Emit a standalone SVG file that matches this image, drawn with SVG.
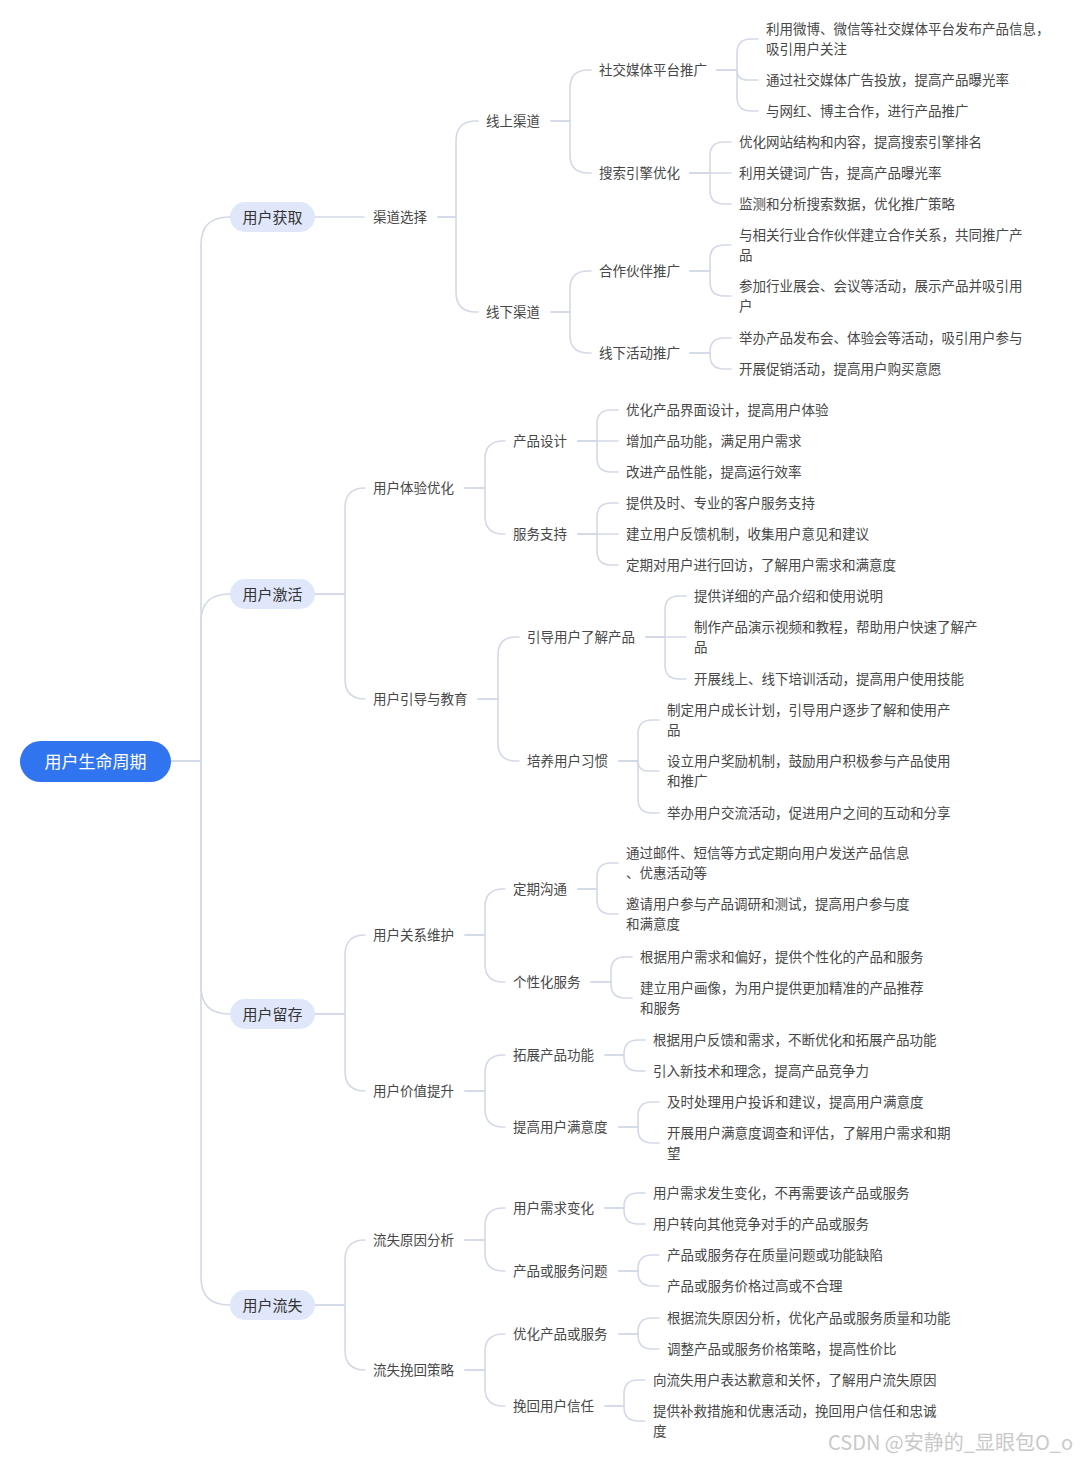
<svg xmlns="http://www.w3.org/2000/svg" width="1080" height="1459" viewBox="0 0 1080 1459">
<style>
.bg{fill:#ffffff}
.c path{fill:none;stroke:#d4d9e8;stroke-width:1.6;stroke-linecap:round}
text{font-family:"Noto Sans CJK SC","Noto Sans",sans-serif;dominant-baseline:central}
.t{font-size:13.5px;fill:#474747}
.p{fill:#e1e7fb}
.pt{font-size:15px;fill:#333;text-anchor:middle}
.root{fill:#3174f0}
.rt{font-size:17px;fill:#ffffff;text-anchor:middle}
.wm{font-size:20px;fill:#c9c9c9;dominant-baseline:auto}
</style>
<rect class="bg" x="0" y="0" width="1080" height="1459"/>
<g class="c" id="connectors">
<path d="M171,761 H201 V245 Q201,217 229,217 H230"/>
<path d="M171,761 H201 V622 Q201,594 229,594 H230"/>
<path d="M171,761 H201 V986 Q201,1014 229,1014 H230"/>
<path d="M171,761 H201 V1277 Q201,1305 229,1305 H230"/>
<path d="M315,217 H364"/>
<path d="M315,594 H345 V508 Q345,488 365,488"/>
<path d="M315,594 H345 V679 Q345,699 365,699"/>
<path d="M315,1014 H345 V955 Q345,935 365,935"/>
<path d="M315,1014 H345 V1071 Q345,1091 365,1091"/>
<path d="M315,1305 H345 V1260 Q345,1240 365,1240"/>
<path d="M315,1305 H345 V1350 Q345,1370 365,1370"/>
<path d="M438,217 H456 V141 Q456,121 476,121 H478"/>
<path d="M438,217 H456 V292 Q456,312 476,312 H478"/>
<path d="M465,488 H485 V459 Q485,441 503,441 H505"/>
<path d="M465,488 H485 V516 Q485,534 503,534 H505"/>
<path d="M478,699 H498 V655 Q498,637 516,637 H519"/>
<path d="M478,699 H498 V743 Q498,761 516,761 H519"/>
<path d="M465,935 H485 V907 Q485,889 503,889 H505"/>
<path d="M465,935 H485 V964 Q485,982 503,982 H505"/>
<path d="M465,1091 H485 V1073 Q485,1055 503,1055 H505"/>
<path d="M465,1091 H485 V1109 Q485,1127 503,1127 H505"/>
<path d="M465,1240 H485 V1226 Q485,1208 503,1208 H505"/>
<path d="M465,1240 H485 V1253 Q485,1271 503,1271 H505"/>
<path d="M465,1370 H485 V1352 Q485,1334 503,1334 H505"/>
<path d="M465,1370 H485 V1388 Q485,1406 503,1406 H505"/>
<path d="M551,121 H570 V88 Q570,70 588,70 H591"/>
<path d="M551,121 H570 V155 Q570,173 588,173 H591"/>
<path d="M551,312 H570 V289 Q570,271 588,271 H591"/>
<path d="M551,312 H570 V335 Q570,353 588,353 H591"/>
<path d="M717,70 H737 V53 Q737,39 751,39 H758"/>
<path d="M717,70 H737 V70 Q737,80 747,80 H758"/>
<path d="M717,70 H737 V97 Q737,111 751,111 H758"/>
<path d="M690,173 H710 V156 Q710,142 724,142 H731"/>
<path d="M690,173 H731"/>
<path d="M690,173 H710 V190 Q710,204 724,204 H731"/>
<path d="M690,271 H710 V259 Q710,245 724,245 H731"/>
<path d="M690,271 H710 V282 Q710,296 724,296 H731"/>
<path d="M690,353 H710 V352 Q710,338 724,338 H731"/>
<path d="M690,353 H710 V355 Q710,369 724,369 H731"/>
<path d="M578,441 H597 V424 Q597,410 611,410 H618"/>
<path d="M578,441 H618"/>
<path d="M578,441 H597 V458 Q597,472 611,472 H618"/>
<path d="M578,534 H597 V517 Q597,503 611,503 H618"/>
<path d="M578,534 H618"/>
<path d="M578,534 H597 V551 Q597,565 611,565 H618"/>
<path d="M646,637 H665 V610 Q665,596 679,596 H686"/>
<path d="M646,637 H686"/>
<path d="M646,637 H665 V665 Q665,679 679,679 H686"/>
<path d="M619,761 H638 V734 Q638,720 652,720 H659"/>
<path d="M619,761 H638 V761 Q638,771 648,771 H659"/>
<path d="M619,761 H638 V799 Q638,813 652,813 H659"/>
<path d="M578,889 H597 V877 Q597,863 611,863 H618"/>
<path d="M578,889 H597 V900 Q597,914 611,914 H618"/>
<path d="M591,982 H611 V971 Q611,957 625,957 H632"/>
<path d="M591,982 H611 V984 Q611,998 625,998 H632"/>
<path d="M605,1055 H624 V1054 Q624,1040 638,1040 H645"/>
<path d="M605,1055 H624 V1057 Q624,1071 638,1071 H645"/>
<path d="M619,1127 H638 V1116 Q638,1102 652,1102 H659"/>
<path d="M619,1127 H638 V1129 Q638,1143 652,1143 H659"/>
<path d="M605,1208 H624 V1207 Q624,1193 638,1193 H645"/>
<path d="M605,1208 H624 V1210 Q624,1224 638,1224 H645"/>
<path d="M619,1271 H638 V1269 Q638,1255 652,1255 H659"/>
<path d="M619,1271 H638 V1272 Q638,1286 652,1286 H659"/>
<path d="M619,1334 H638 V1332 Q638,1318 652,1318 H659"/>
<path d="M619,1334 H638 V1335 Q638,1349 652,1349 H659"/>
<path d="M605,1406 H624 V1394 Q624,1380 638,1380 H645"/>
<path d="M605,1406 H624 V1407 Q624,1421 638,1421 H645"/>
</g>
<g id="root"><rect class="root" x="20" y="741" width="151" height="41" rx="20.5"/><text class="rt" x="95.5" y="760.5">用户生命周期</text></g>
<g id="n-acquire"><rect class="p" x="230" y="202" width="85" height="30" rx="15"/><text class="pt" x="272.5" y="216">用户获取</text></g>
<g id="n-activate"><rect class="p" x="230" y="579" width="85" height="30" rx="15"/><text class="pt" x="272.5" y="593">用户激活</text></g>
<g id="n-retain"><rect class="p" x="230" y="999" width="85" height="30" rx="15"/><text class="pt" x="272.5" y="1013">用户留存</text></g>
<g id="n-churn"><rect class="p" x="230" y="1290" width="85" height="30" rx="15"/><text class="pt" x="272.5" y="1304">用户流失</text></g>
<g transform="translate(0,-1)">
<g id="n-channel"><text class="t" x="373" y="217">渠道选择</text></g>
<g id="n-ux"><text class="t" x="373" y="488">用户体验优化</text></g>
<g id="n-guide"><text class="t" x="373" y="699">用户引导与教育</text></g>
<g id="n-relation"><text class="t" x="373" y="935">用户关系维护</text></g>
<g id="n-value"><text class="t" x="373" y="1091">用户价值提升</text></g>
<g id="n-reason"><text class="t" x="373" y="1240">流失原因分析</text></g>
<g id="n-winback"><text class="t" x="373" y="1370">流失挽回策略</text></g>
<g id="n-online"><text class="t" x="486" y="121">线上渠道</text></g>
<g id="n-offline"><text class="t" x="486" y="312">线下渠道</text></g>
<g id="n-social"><text class="t" x="599" y="70">社交媒体平台推广</text></g>
<g id="n-seo"><text class="t" x="599" y="173">搜索引擎优化</text></g>
<g id="n-partner"><text class="t" x="599" y="271">合作伙伴推广</text></g>
<g id="n-event"><text class="t" x="599" y="353">线下活动推广</text></g>
<g id="n-design"><text class="t" x="513" y="441">产品设计</text></g>
<g id="n-service"><text class="t" x="513" y="534">服务支持</text></g>
<g id="n-learn"><text class="t" x="527" y="637">引导用户了解产品</text></g>
<g id="n-habit"><text class="t" x="527" y="761">培养用户习惯</text></g>
<g id="n-comm"><text class="t" x="513" y="889">定期沟通</text></g>
<g id="n-personal"><text class="t" x="513" y="982">个性化服务</text></g>
<g id="n-feature"><text class="t" x="513" y="1055">拓展产品功能</text></g>
<g id="n-satis"><text class="t" x="513" y="1127">提高用户满意度</text></g>
<g id="n-needs"><text class="t" x="513" y="1208">用户需求变化</text></g>
<g id="n-problem"><text class="t" x="513" y="1271">产品或服务问题</text></g>
<g id="n-optimize"><text class="t" x="513" y="1334">优化产品或服务</text></g>
<g id="n-trust"><text class="t" x="513" y="1406">挽回用户信任</text></g>
<g id="leaves">
<g id="l1"><text class="t"><tspan x="766" y="29">利用微博、微信等社交媒体平台发布产品信息，</tspan><tspan x="766" y="49">吸引用户关注</tspan></text></g>
<g id="l2"><text class="t" x="766" y="80">通过社交媒体广告投放，提高产品曝光率</text></g>
<g id="l3"><text class="t" x="766" y="111">与网红、博主合作，进行产品推广</text></g>
<g id="l4"><text class="t" x="739" y="142">优化网站结构和内容，提高搜索引擎排名</text></g>
<g id="l5"><text class="t" x="739" y="173">利用关键词广告，提高产品曝光率</text></g>
<g id="l6"><text class="t" x="739" y="204">监测和分析搜索数据，优化推广策略</text></g>
<g id="l7"><text class="t"><tspan x="739" y="235">与相关行业合作伙伴建立合作关系，共同推广产</tspan><tspan x="739" y="255">品</tspan></text></g>
<g id="l8"><text class="t"><tspan x="739" y="286">参加行业展会、会议等活动，展示产品并吸引用</tspan><tspan x="739" y="306">户</tspan></text></g>
<g id="l9"><text class="t" x="739" y="338">举办产品发布会、体验会等活动，吸引用户参与</text></g>
<g id="l10"><text class="t" x="739" y="369">开展促销活动，提高用户购买意愿</text></g>
<g id="l11"><text class="t" x="626" y="410">优化产品界面设计，提高用户体验</text></g>
<g id="l12"><text class="t" x="626" y="441">增加产品功能，满足用户需求</text></g>
<g id="l13"><text class="t" x="626" y="472">改进产品性能，提高运行效率</text></g>
<g id="l14"><text class="t" x="626" y="503">提供及时、专业的客户服务支持</text></g>
<g id="l15"><text class="t" x="626" y="534">建立用户反馈机制，收集用户意见和建议</text></g>
<g id="l16"><text class="t" x="626" y="565">定期对用户进行回访，了解用户需求和满意度</text></g>
<g id="l17"><text class="t" x="694" y="596">提供详细的产品介绍和使用说明</text></g>
<g id="l18"><text class="t"><tspan x="694" y="627">制作产品演示视频和教程，帮助用户快速了解产</tspan><tspan x="694" y="647">品</tspan></text></g>
<g id="l19"><text class="t" x="694" y="679">开展线上、线下培训活动，提高用户使用技能</text></g>
<g id="l20"><text class="t"><tspan x="667" y="710">制定用户成长计划，引导用户逐步了解和使用产</tspan><tspan x="667" y="730">品</tspan></text></g>
<g id="l21"><text class="t"><tspan x="667" y="761">设立用户奖励机制，鼓励用户积极参与产品使用</tspan><tspan x="667" y="781">和推广</tspan></text></g>
<g id="l22"><text class="t" x="667" y="813">举办用户交流活动，促进用户之间的互动和分享</text></g>
<g id="l23"><text class="t"><tspan x="626" y="853">通过邮件、短信等方式定期向用户发送产品信息</tspan><tspan x="626" y="873">、优惠活动等</tspan></text></g>
<g id="l24"><text class="t"><tspan x="626" y="904">邀请用户参与产品调研和测试，提高用户参与度</tspan><tspan x="626" y="924">和满意度</tspan></text></g>
<g id="l25"><text class="t" x="640" y="957">根据用户需求和偏好，提供个性化的产品和服务</text></g>
<g id="l26"><text class="t"><tspan x="640" y="988">建立用户画像，为用户提供更加精准的产品推荐</tspan><tspan x="640" y="1008">和服务</tspan></text></g>
<g id="l27"><text class="t" x="653" y="1040">根据用户反馈和需求，不断优化和拓展产品功能</text></g>
<g id="l28"><text class="t" x="653" y="1071">引入新技术和理念，提高产品竞争力</text></g>
<g id="l29"><text class="t" x="667" y="1102">及时处理用户投诉和建议，提高用户满意度</text></g>
<g id="l30"><text class="t"><tspan x="667" y="1133">开展用户满意度调查和评估，了解用户需求和期</tspan><tspan x="667" y="1153">望</tspan></text></g>
<g id="l31"><text class="t" x="653" y="1193">用户需求发生变化，不再需要该产品或服务</text></g>
<g id="l32"><text class="t" x="653" y="1224">用户转向其他竞争对手的产品或服务</text></g>
<g id="l33"><text class="t" x="667" y="1255">产品或服务存在质量问题或功能缺陷</text></g>
<g id="l34"><text class="t" x="667" y="1286">产品或服务价格过高或不合理</text></g>
<g id="l35"><text class="t" x="667" y="1318">根据流失原因分析，优化产品或服务质量和功能</text></g>
<g id="l36"><text class="t" x="667" y="1349">调整产品或服务价格策略，提高性价比</text></g>
<g id="l37"><text class="t" x="653" y="1380">向流失用户表达歉意和关怀，了解用户流失原因</text></g>
<g id="l38"><text class="t"><tspan x="653" y="1411">提供补救措施和优惠活动，挽回用户信任和忠诚</tspan><tspan x="653" y="1431">度</tspan></text></g>
</g>
</g>
<text class="wm" x="828" y="1450">CSDN @安静的_显眼包O_o</text>
</svg>
